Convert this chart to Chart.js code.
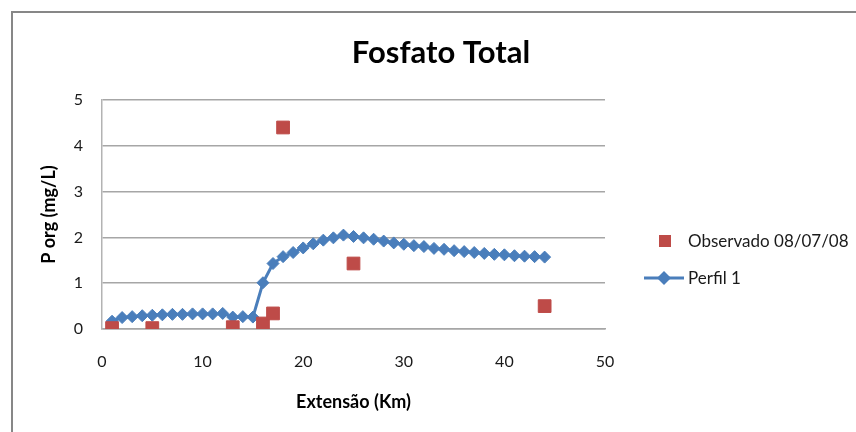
<!DOCTYPE html>
<html>
<head>
<meta charset="utf-8">
<script src="https://cdn.jsdelivr.net/npm/chart.js@4/dist/chart.umd.min.js"></script>
<style>
  html, body { margin: 0; padding: 0; background: #ffffff; }
  #wrap { width: 856px; height: 432px; }
</style>
</head>
<body>
<div id="wrap"><canvas id="c" width="856" height="432"></canvas></div>
<script>
// Perfil 1 (modelled profile), km positions and phosphate values
const kmPerfil = [1,2,3,4,5,6,7,8,9,10,11,12,13,14,15,16,17,18,19,20,21,22,
                  23,24,25,26,27,28,29,30,31,32,33,34,35,36,37,38,39,40,41,42,43,44];
const perfil1 = [0.17,0.25,0.27,0.29,0.30,0.31,0.32,0.32,0.33,0.33,0.33,0.34,
                 0.26,0.27,0.26,1.01,1.43,1.58,1.67,1.77,1.86,1.94,1.99,2.05,
                 2.02,1.99,1.96,1.92,1.88,1.85,1.82,1.80,1.76,1.74,1.71,1.69,
                 1.67,1.65,1.63,1.62,1.60,1.59,1.58,1.57];

// Observed samples (08/07/08)
const kmObs = [1, 5, 13, 16, 17, 18, 25, 44];
const observado = [0.02, 0.02, 0.04, 0.12, 0.34, 4.4, 1.43, 0.5];

const xTicks = [0, 10, 20, 30, 40, 50];
const yTicks = [0, 1, 2, 3, 4, 5];

const chartTitle = 'Fosfato Total';
const xTitle = 'Extensão (Km)';
const yTitle = 'P org (mg/L)';
const labelObs = 'Observado 08/07/08';
const labelPerfil = 'Perfil 1';

const RED = '#be4b48';
const BLUE = '#4a7ebb';
const FONT = 'Lato, "Open Sans", sans-serif';

const pts = (xs, ys) => xs.map((x, i) => ({ x: x, y: ys[i] }));

// Outer frame, title and legend drawn on the canvas
const decor = {
  id: 'decor',
  beforeDraw(chart) {
    const ctx = chart.ctx;
    ctx.save();
    ctx.strokeStyle = '#878787';
    ctx.lineWidth = 2;
    ctx.beginPath();
    ctx.moveTo(12, 432);
    ctx.lineTo(12, 12);
    ctx.lineTo(856, 12);
    ctx.stroke();
    ctx.restore();
  },
  afterDraw(chart) {
    const ctx = chart.ctx;
    ctx.save();
    // title
    ctx.fillStyle = '#000000';
    ctx.font = 'bold 31px ' + FONT;
    ctx.textAlign = 'center';
    ctx.textBaseline = 'alphabetic';
    ctx.fillText(chartTitle, 441, 63);

    // legend
    const ds = chart.data.datasets;
    ctx.font = '17px ' + FONT;
    ctx.textAlign = 'left';
    ctx.textBaseline = 'middle';

    ctx.fillStyle = ds[0].backgroundColor;
    ctx.fillRect(659, 235, 12, 12);
    ctx.fillStyle = '#1a1a1a';
    ctx.fillText(ds[0].label, 688, 242);

    ctx.strokeStyle = ds[1].borderColor;
    ctx.lineWidth = 3;
    ctx.beginPath();
    ctx.moveTo(644, 278);
    ctx.lineTo(684, 278);
    ctx.stroke();
    ctx.fillStyle = ds[1].pointBackgroundColor;
    ctx.beginPath();
    ctx.moveTo(664, 271);
    ctx.lineTo(671, 278);
    ctx.lineTo(664, 285);
    ctx.lineTo(657, 278);
    ctx.closePath();
    ctx.fill();
    ctx.fillStyle = '#1a1a1a';
    ctx.fillText(ds[1].label, 688, 279);
    ctx.restore();
  }
};

new Chart(document.getElementById('c'), {
  type: 'scatter',
  data: {
    datasets: [
      {
        label: labelObs,
        data: pts(kmObs, observado),
        showLine: false,
        pointStyle: 'rect',
        pointRadius: 9,
        pointHoverRadius: 9,
        borderWidth: 1,
        backgroundColor: RED,
        borderColor: RED
      },
      {
        label: labelPerfil,
        data: pts(kmPerfil, perfil1),
        showLine: true,
        borderColor: BLUE,
        borderWidth: 3,
        pointStyle: 'rectRot',
        pointRadius: 6,
        pointHoverRadius: 6,
        pointBorderWidth: 1,
        pointBackgroundColor: BLUE,
        pointBorderColor: BLUE,
        backgroundColor: BLUE,
        tension: 0
      }
    ]
  },
  options: {
    responsive: false,
    animation: false,
    events: [],
    layout: { padding: { left: 12, right: 251, top: 100, bottom: 0 } },
    plugins: {
      legend: { display: false },
      title: { display: false },
      tooltip: { enabled: false }
    },
    scales: {
      x: {
        type: 'linear',
        min: 0,
        max: 50,
        afterFit(scale) { scale.height = 103; },
        afterBuildTicks(scale) { scale.ticks = xTicks.map(v => ({ value: v })); },
        grid: { display: false, drawTicks: false },
        border: { display: true, color: '#a6a6a6', width: 1.5 },
        ticks: { padding: 23, color: '#1a1a1a', font: { family: FONT, size: 16 } },
        title: {
          display: true,
          text: xTitle,
          color: '#000000',
          font: { family: FONT, size: 18, weight: 'bold' },
          padding: { top: 0, bottom: 19 }
        }
      },
      y: {
        type: 'linear',
        min: 0,
        max: 5,
        afterFit(scale) { scale.width = 90; },
        afterBuildTicks(scale) { scale.ticks = yTicks.map(v => ({ value: v })); },
        grid: { color: '#a6a6a6', lineWidth: 1.5, drawTicks: false },
        border: { display: true, color: '#b3b3b3', width: 1.5 },
        ticks: { padding: 19, color: '#1a1a1a', font: { family: FONT, size: 16 } },
        title: {
          display: true,
          text: yTitle,
          color: '#000000',
          font: { family: FONT, size: 18, weight: 'bold' },
          padding: { top: 26, bottom: 0 }
        }
      }
    }
  },
  plugins: [decor]
});
</script>
</body>
</html>
